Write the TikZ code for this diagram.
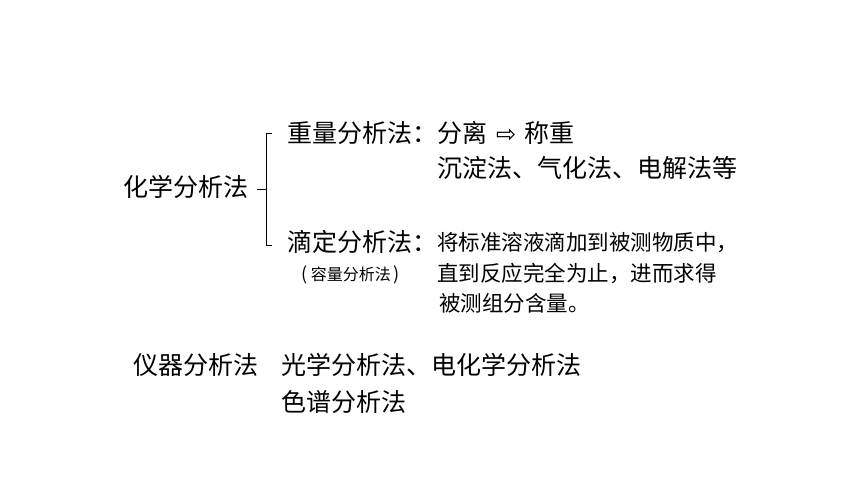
\documentclass[tikz,border=0pt]{standalone}
\usepackage{fontspec}
\setmainfont{Noto Sans CJK SC}
\newfontfamily\arrowfont{DejaVu Sans}

\begin{document}
\begin{tikzpicture}[
		x = 1pt, y = -1pt,
		every node/.style = {
			anchor=base west, inner sep=0pt,
			font=\fontsize{25}{29}\selectfont},
		small/.style = {font=\fontsize{21.5}{25}\selectfont},
		note/.style = {font=\fontsize{16}{19}\selectfont}]
		
		\useasboundingbox (0,0) rectangle (860,484);
		
		% chemical analysis
		\node (chem) at (123,196.5) {化学分析法};
		\node (grav) at (287,142.5) {重量分析法：};
		\node (gravA) at (437,142.5) {分离\hspace{9pt}{\arrowfont\fontsize{24}{28}\selectfont ⇨}\hspace{8pt}称重};
		\node (gravB) at (437,177.5) {沉淀法、气化法、电解法等};
		\node (titr) at (287,251.5) {滴定分析法：};
		\node[note] (titrAlt) at (301,280) {{\fontsize{18}{20}\selectfont(}\hspace{3.5pt}容量分析法\hspace{3pt}{\fontsize{18}{20}\selectfont)}};
		\node[small] (titrA) at (437,250.2) {将标准溶液滴加到被测物质中，};
		\node[small] (titrB) at (437,281.2) {直到反应完全为止，进而求得};
		\node[small] (titrC) at (439,311.2) {被测组分含量。};
		
		% bracket
		\coordinate (top) at (266,133);
		\coordinate (bot) at (266,245);
		\coordinate (mid) at (266,189);
		\draw[line width=0.9pt] ([xshift=6pt]top) -- (top) -- (bot) -- ([xshift=6pt]bot);
		\draw[line width=0.9pt] ([xshift=-9pt]mid) -- (mid);
		
		% instrumental analysis
		\node (instr) at (133,374.5) {仪器分析法};
		\node (instrA) at (281,374.5) {光学分析法、电化学分析法};
		\node (instrB) at (281,411.5) {色谱分析法};
		
\end{tikzpicture}
\end{document}
